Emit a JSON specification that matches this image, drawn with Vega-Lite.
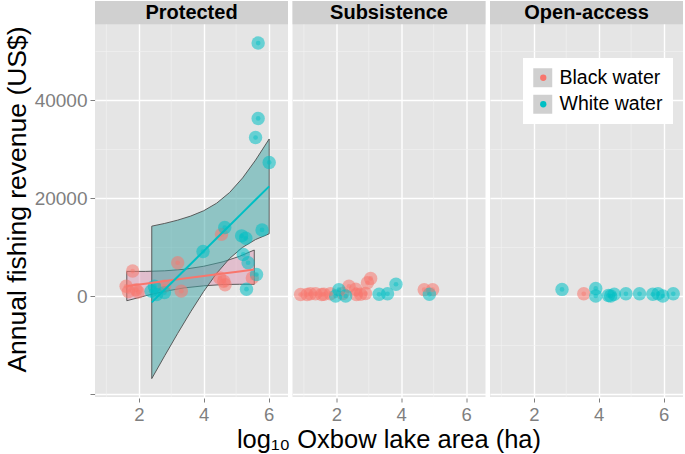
{
"$schema":"https://vega.github.io/schema/vega-lite/v6.json",
"padding":{"left":4,"top":0,"right":0,"bottom":0},
"background":"white",
"config":{"font":"Liberation Sans","view":{"stroke":null,"fill":"#E5E5E5"},"axis":{"domain":false,"labelFont":"Liberation Sans","titleFont":"Liberation Sans"},"legend":{"labelFont":"Liberation Sans"},"text":{"font":"Liberation Sans"}},
"data":{"values":[
{"panel":"Protected","water":"Black water","area":1.61,"revenue":2000},
{"panel":"Protected","water":"Black water","area":1.68,"revenue":900},
{"panel":"Protected","water":"Black water","area":1.81,"revenue":5100},
{"panel":"Protected","water":"Black water","area":1.92,"revenue":1300},
{"panel":"Protected","water":"Black water","area":1.98,"revenue":800},
{"panel":"Protected","water":"Black water","area":2.79,"revenue":2000},
{"panel":"Protected","water":"Black water","area":3.2,"revenue":6800},
{"panel":"Protected","water":"Black water","area":3.31,"revenue":1000},
{"panel":"Protected","water":"Black water","area":4.5,"revenue":3700},
{"panel":"Protected","water":"Black water","area":4.55,"revenue":12600},
{"panel":"Protected","water":"Black water","area":4.62,"revenue":3000},
{"panel":"Protected","water":"Black water","area":4.66,"revenue":2300},
{"panel":"Protected","water":"Black water","area":5.5,"revenue":3700},
{"panel":"Protected","water":"White water","area":2.38,"revenue":1000},
{"panel":"Protected","water":"White water","area":2.48,"revenue":2000},
{"panel":"Protected","water":"White water","area":2.55,"revenue":300},
{"panel":"Protected","water":"White water","area":2.79,"revenue":700},
{"panel":"Protected","water":"White water","area":3.98,"revenue":9100},
{"panel":"Protected","water":"White water","area":4.65,"revenue":14000},
{"panel":"Protected","water":"White water","area":5.17,"revenue":12300},
{"panel":"Protected","water":"White water","area":5.3,"revenue":11800},
{"panel":"Protected","water":"White water","area":5.22,"revenue":8500},
{"panel":"Protected","water":"White water","area":5.32,"revenue":1400},
{"panel":"Protected","water":"White water","area":5.37,"revenue":6800},
{"panel":"Protected","water":"White water","area":5.6,"revenue":32400},
{"panel":"Protected","water":"White water","area":5.63,"revenue":4400},
{"panel":"Protected","water":"White water","area":5.68,"revenue":36300},
{"panel":"Protected","water":"White water","area":5.68,"revenue":51700},
{"panel":"Protected","water":"White water","area":5.8,"revenue":13500},
{"panel":"Protected","water":"White water","area":6.02,"revenue":27300},
{"panel":"Subsistence","water":"Black water","area":0.9,"revenue":300},
{"panel":"Subsistence","water":"Black water","area":1.1,"revenue":300},
{"panel":"Subsistence","water":"Black water","area":1.2,"revenue":450},
{"panel":"Subsistence","water":"Black water","area":1.36,"revenue":450},
{"panel":"Subsistence","water":"Black water","area":1.55,"revenue":300},
{"panel":"Subsistence","water":"Black water","area":1.62,"revenue":350},
{"panel":"Subsistence","water":"Black water","area":1.82,"revenue":450},
{"panel":"Subsistence","water":"Black water","area":2.2,"revenue":500},
{"panel":"Subsistence","water":"Black water","area":2.39,"revenue":2000},
{"panel":"Subsistence","water":"Black water","area":2.6,"revenue":1400},
{"panel":"Subsistence","water":"Black water","area":2.62,"revenue":300},
{"panel":"Subsistence","water":"Black water","area":2.75,"revenue":350},
{"panel":"Subsistence","water":"Black water","area":2.9,"revenue":500},
{"panel":"Subsistence","water":"Black water","area":2.96,"revenue":2700},
{"panel":"Subsistence","water":"Black water","area":3.06,"revenue":3600},
{"panel":"Subsistence","water":"Black water","area":4.71,"revenue":1300},
{"panel":"Subsistence","water":"Black water","area":4.97,"revenue":1300},
{"panel":"Subsistence","water":"White water","area":1.98,"revenue":0},
{"panel":"Subsistence","water":"White water","area":2.08,"revenue":1300},
{"panel":"Subsistence","water":"White water","area":2.29,"revenue":0},
{"panel":"Subsistence","water":"White water","area":3.32,"revenue":350},
{"panel":"Subsistence","water":"White water","area":3.58,"revenue":450},
{"panel":"Subsistence","water":"White water","area":3.84,"revenue":2400},
{"panel":"Subsistence","water":"White water","area":4.87,"revenue":350},
{"panel":"Open-access","water":"White water","area":2.87,"revenue":1350},
{"panel":"Open-access","water":"Black water","area":3.54,"revenue":450},
{"panel":"Open-access","water":"White water","area":3.91,"revenue":1550},
{"panel":"Open-access","water":"White water","area":3.91,"revenue":0},
{"panel":"Open-access","water":"White water","area":4.3,"revenue":100},
{"panel":"Open-access","water":"White water","area":4.37,"revenue":0},
{"panel":"Open-access","water":"White water","area":4.48,"revenue":350},
{"panel":"Open-access","water":"White water","area":4.84,"revenue":450},
{"panel":"Open-access","water":"White water","area":5.26,"revenue":450},
{"panel":"Open-access","water":"White water","area":5.67,"revenue":350},
{"panel":"Open-access","water":"White water","area":5.83,"revenue":450},
{"panel":"Open-access","water":"White water","area":5.98,"revenue":0},
{"panel":"Open-access","water":"White water","area":6.3,"revenue":450},
{"panel":"Protected","water":"Black water","area":1.63,"lo":-965,"hi":5035,"fit":2035},
{"panel":"Protected","water":"Black water","area":2.2,"lo":30,"hi":5030,"fit":2530},
{"panel":"Protected","water":"Black water","area":2.8,"lo":950,"hi":5150,"fit":3050},
{"panel":"Protected","water":"Black water","area":3.4,"lo":1660,"hi":5460,"fit":3560},
{"panel":"Protected","water":"Black water","area":4.0,"lo":2080,"hi":6080,"fit":4080},
{"panel":"Protected","water":"Black water","area":4.6,"lo":2350,"hi":7000,"fit":4600},
{"panel":"Protected","water":"Black water","area":5.1,"lo":2400,"hi":8100,"fit":5030},
{"panel":"Protected","water":"Black water","area":5.56,"lo":2380,"hi":9400,"fit":5430},
{"panel":"Protected","water":"White water","area":2.4,"lo":-16880,"hi":14280,"fit":-1300},
{"panel":"Protected","water":"White water","area":2.8,"lo":-12200,"hi":14840,"fit":1320},
{"panel":"Protected","water":"White water","area":3.2,"lo":-7630,"hi":15510,"fit":3940},
{"panel":"Protected","water":"White water","area":3.6,"lo":-3220,"hi":16340,"fit":6560},
{"panel":"Protected","water":"White water","area":4.0,"lo":930,"hi":17430,"fit":9180},
{"panel":"Protected","water":"White water","area":4.4,"lo":4630,"hi":18970,"fit":11800},
{"panel":"Protected","water":"White water","area":4.8,"lo":7680,"hi":21160,"fit":14420},
{"panel":"Protected","water":"White water","area":5.2,"lo":9950,"hi":24130,"fit":17040},
{"panel":"Protected","water":"White water","area":5.6,"lo":11540,"hi":27780,"fit":19660},
{"panel":"Protected","water":"White water","area":6.02,"lo":12720,"hi":32100,"fit":22410}
]},
"facet":{"column":{"field":"panel","type":"nominal","sort":["Protected","Subsistence","Open-access"],"header":{"title":"log₁₀ Oxbow lake area (ha)","titleOrient":"bottom","labels":false,"titleFontSize":25.5,"titleFontWeight":"normal","titleColor":"black","titleFont":"Liberation Sans","titlePadding":-6}}},
"spacing":4.5,
"spec":{"width":193,"height":396,
"layer":[
{"transform":[{"aggregate":[{"op":"count","as":"n"}],"groupby":["panel"]}],"mark":{"type":"rule","color":"#F2F2F2","strokeWidth":0.6},"encoding":{"x":{"datum":1,"type":"quantitative"}}},
{"transform":[{"aggregate":[{"op":"count","as":"n"}],"groupby":["panel"]}],"mark":{"type":"rule","color":"#F2F2F2","strokeWidth":0.6},"encoding":{"x":{"datum":3,"type":"quantitative"}}},
{"transform":[{"aggregate":[{"op":"count","as":"n"}],"groupby":["panel"]}],"mark":{"type":"rule","color":"#F2F2F2","strokeWidth":0.6},"encoding":{"x":{"datum":5,"type":"quantitative"}}},
{"transform":[{"aggregate":[{"op":"count","as":"n"}],"groupby":["panel"]}],"mark":{"type":"rect","fill":"#D0D0D0"},
"encoding":{"x":{"datum":0.65,"type":"quantitative"},"x2":{"datum":6.6},"y":{"datum":55530,"type":"quantitative"},"y2":{"datum":60300}}},
{"transform":[{"aggregate":[{"op":"count","as":"n"}],"groupby":["panel"]}],"mark":{"type":"text","fontSize":20,"fontWeight":"bold","color":"black","baseline":"middle","align":"center"},
"encoding":{"x":{"datum":3.625,"type":"quantitative"},"y":{"datum":57900,"type":"quantitative"},"text":{"field":"panel"}}},
{"transform":[{"filter":"isValid(datum.fit)"}],"mark":{"type":"area","fillOpacity":0.5,"stroke":"#4D4D4D","strokeWidth":0.9},
"encoding":{"x":{"field":"area","type":"quantitative"},"y":{"field":"lo","type":"quantitative"},"y2":{"field":"hi"},"fill":{"field":"water","type":"nominal","scale":{"domain":["White water","Black water"],"range":["#39A3A3","#DD97B5"]},"legend":null}}},
{"transform":[{"filter":"isValid(datum.revenue)"}],"mark":{"type":"circle","size":180,"fillOpacity":0.55},
"encoding":{
"x":{"field":"area","type":"quantitative","scale":{"domain":[0.65,6.6],"nice":false,"zero":false},"axis":{"grid":true,"values":[2,4,6],"format":"d","labelOverlap":false,"labelFlush":false,"title":null,"domain":false,"tickSize":4,"tickColor":"#7F7F7F","gridColor":"#FFFFFF","gridWidth":1.4,"labelColor":"#7F7F7F","labelFontSize":18.5,"labelPadding":3}},
"y":{"field":"revenue","type":"quantitative","scale":{"domain":[-20640,60300],"nice":false,"zero":false},"axis":{"grid":true,"values":[-20000,-10000,0,10000,20000,30000,40000,50000],"format":"d","labelExpr":"datum.value >= 0 && datum.value % 20000 == 0 ? datum.label : ''","labelOverlap":false,"title":"Annual fishing revenue (US$)","domain":false,"tickSize":5,"tickColor":{"condition":{"test":"datum.value % 20000 != 0","value":"transparent"},"value":"#7F7F7F"},"gridColor":{"condition":{"test":"datum.value % 20000 != 0","value":"#F2F2F2"},"value":"#FFFFFF"},"gridWidth":{"condition":{"test":"datum.value % 20000 != 0","value":0.6},"value":1.4},"labelColor":"#7F7F7F","labelFontSize":19,"labelPadding":3,"titleFontSize":26.5,"titleFontWeight":"normal","titleColor":"black","titlePadding":3}},
"color":{"field":"water","type":"nominal","scale":{"range":["#F8766D","#00BFC4"]},"legend":{"title":null,"orient":"none","legendX":428.5,"legendY":57,"padding":10,"symbolType":"circle","symbolSize":40,"symbolStrokeWidth":0,"symbolOpacity":1,"labelFontSize":19.5,"labelExpr":"''","labelOffset":7,"rowPadding":5.5,"zindex":2}}}},
{"transform":[{"filter":"isValid(datum.revenue)"}],"mark":{"type":"circle","size":22,"fillOpacity":0.45},
"encoding":{"x":{"field":"area","type":"quantitative"},"y":{"field":"revenue","type":"quantitative"},"color":{"field":"water","type":"nominal"}}},
{"transform":[{"filter":"isValid(datum.fit)"}],"mark":{"type":"line","strokeWidth":2},
"encoding":{"x":{"field":"area","type":"quantitative"},"y":{"field":"fit","type":"quantitative"},"stroke":{"field":"water","type":"nominal","scale":{"domain":["White water","Black water"],"range":["#00BFC4","#F8766D"]},"legend":null}}},
{"transform":[{"filter":"isValid(datum.revenue)"}],"mark":{"type":"point","filled":true,"size":0,"color":"#D0D0D0"},
"encoding":{"x":{"field":"area","type":"quantitative"},"y":{"field":"revenue","type":"quantitative"},"shape":{"field":"water","type":"nominal","scale":{"domain":["Black water","White water"],"range":["square","square"]},"legend":{"title":null,"orient":"none","legendX":428,"legendY":57,"fillColor":"white","padding":10,"symbolType":"square","symbolSize":361,"symbolFillColor":"#D0D0D0","symbolStrokeWidth":0,"symbolOpacity":1,"labelFontSize":19.5,"labelColor":"black","labelOpacity":1,"labelOffset":7,"rowPadding":5.5,"zindex":1}}}}
]}
}
